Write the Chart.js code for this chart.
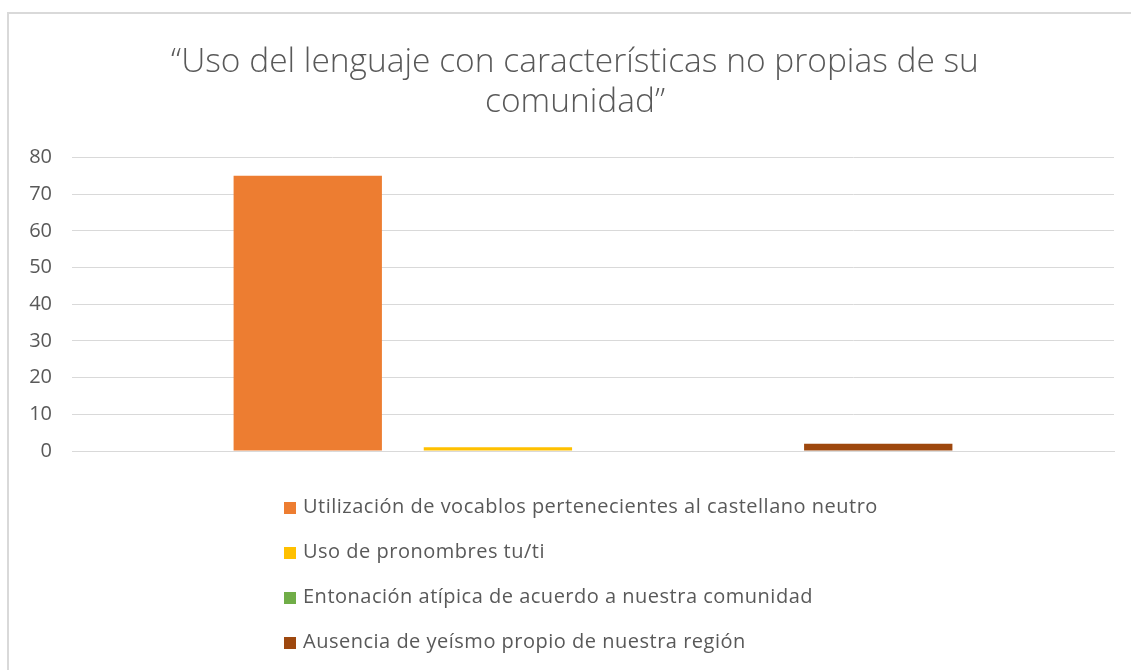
<!DOCTYPE html>
<html>
<head>
<meta charset="utf-8">
<script src="https://cdn.jsdelivr.net/npm/chart.js@4"></script>
<style>
  html, body { margin: 0; padding: 0; background: #fff; }
  #wrap { position: relative; width: 1131px; height: 670px; overflow: hidden; }
  #frame { position: absolute; left: 7px; top: 12px; right: -10px; bottom: -10px;
           border-left: 2px solid #d9d9d9; border-top: 2px solid #d9d9d9; }
  #c { position: absolute; left: 0; top: 0; }
  #legend { position: absolute; left: 284px; top: 492px; font-family: "Open Sans", "Liberation Sans", sans-serif;
            font-size: 20px; letter-spacing: 0.5px; color: #595959; }
  #legend .item { height: 45px; display: flex; align-items: flex-start; white-space: nowrap; }
  #legend .box { width: 12px; height: 12px; margin-right: 7px; margin-top: 10px; }
</style>
</head>
<body>
<div id="wrap">
  <div id="frame"></div>
  <canvas id="c" width="1131" height="670"></canvas>
  <div id="legend"></div>
</div>
<script>
const titleLines = ["“Uso del lenguaje con características no propias de su", "comunidad”"];
const categories = [""];
const seriesNames = [
  "Utilización de vocablos pertenecientes al castellano neutro",
  "Uso de pronombres tu/ti",
  "Entonación atípica de acuerdo a nuestra comunidad",
  "Ausencia de yeísmo propio de nuestra región"
];
const seriesValues = [[75], [1], [0], [2]];
const seriesColors = ["#ED7D31", "#FFC000", "#70AD47", "#9E480E"];
const yTicks = [0, 10, 20, 30, 40, 50, 60, 70, 80];

const datasets = seriesNames.map((name, i) => ({
  label: name,
  data: seriesValues[i],
  backgroundColor: seriesColors[i],
  borderWidth: 0,
  barPercentage: 0.78,
  categoryPercentage: 0.73
}));

// widen the y-axis box to the canvas edge after layout so its labels are not clipped
const widenY = {
  id: 'widenY',
  afterLayout(chart) {
    const y = chart.scales.y;
    y.left = 0;
    y.width = y.right;
  }
};

const chart = new Chart(document.getElementById('c'), {
  type: 'bar',
  data: { labels: categories, datasets },
  plugins: [widenY],
  options: {
    responsive: false,
    animation: false,
    devicePixelRatio: 1,
    layout: { padding: { top: 0, right: 17, bottom: 219, left: 36 } },
    plugins: {
      legend: { display: false },
      tooltip: { enabled: false },
      title: {
        display: true,
        text: titleLines,
        color: '#595959',
        font: { family: '"Open Sans", sans-serif', size: 33.5, weight: '300', lineHeight: 1.2 },
        padding: { top: 42, bottom: 35 }
      }
    },
    scales: {
      x: {
        ticks: { display: false },
        grid: { display: false, drawTicks: false },
        border: { display: true, color: '#d9d9d9', width: 1 }
      },
      y: {
        min: 0, max: 80,
        afterBuildTicks: (axis) => { axis.ticks = yTicks.map(v => ({ value: v })); },
        afterFit: (axis) => { axis.width = 36; },
        ticks: { color: '#595959', padding: 20, font: { family: '"Open Sans", sans-serif', size: 20 } },
        grid: { color: '#d9d9d9', drawTicks: false, lineWidth: 1 },
        border: { display: false }
      }
    }
  }
});

const legend = document.getElementById('legend');
chart.data.datasets.forEach(ds => {
  const item = document.createElement('div');
  item.className = 'item';
  const box = document.createElement('span');
  box.className = 'box';
  box.style.background = ds.backgroundColor;
  const txt = document.createElement('span');
  txt.textContent = ds.label;
  item.appendChild(box);
  item.appendChild(txt);
  legend.appendChild(item);
});
</script>
</body>
</html>
